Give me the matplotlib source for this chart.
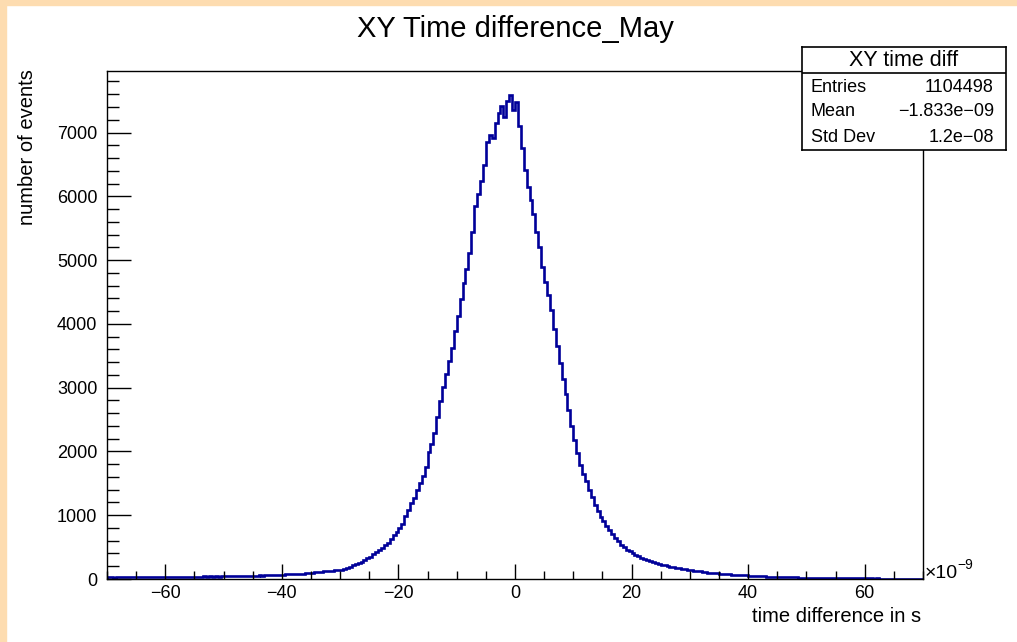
import matplotlib
matplotlib.use("Agg")
import matplotlib.pyplot as plt
from matplotlib.patches import Rectangle
from matplotlib.ticker import MultipleLocator
import numpy as np

plt.rcParams['font.family'] = ['Liberation Sans', 'DejaVu Sans']

# histogram: 0.5e-9 s bins from -70e-9 to 70e-9
bin_lo = -70.0
bin_width = 0.5
counts = [
    24, 27, 22, 29, 25, 31, 26, 28, 30, 24, 33, 27, 29, 32, 26, 30, 34, 28, 31, 33,
    30, 35, 32, 29, 36, 33, 38, 31, 35, 37, 34, 39, 36, 41, 35, 40, 38, 43, 39, 42,
    44, 41, 46, 43, 48, 45, 50, 47, 52, 49, 54, 51, 57, 53, 59, 56, 61, 63, 60, 66,
    70, 72, 75, 74, 80, 83, 86, 84, 92, 95, 100, 103, 110, 108, 118, 122, 127, 131, 135, 141,
    145, 158, 176, 188, 212, 228, 252, 270, 302, 330, 352, 388, 421, 447, 484, 527, 572, 626, 683, 738,
    795, 868, 992, 1085, 1196, 1275, 1392, 1505, 1618, 1760, 1985, 2110, 2290, 2545, 2790, 3005, 3215, 3410, 3615, 3885,
    4120, 4390, 4635, 4860, 5110, 5435, 5850, 6040, 6235, 6490, 6850, 6960, 6915, 7150, 7305, 7420, 7245, 7490, 7585, 7350,
    7480, 7095, 6760, 6415, 6150, 5945, 5720, 5440, 5205, 4890, 4655, 4445, 4210, 3915, 3650, 3385, 3140, 2905, 2650, 2405,
    2180, 1975, 1790, 1645, 1530, 1395, 1285, 1165, 1060, 968, 902, 826, 762, 698, 641, 592, 538, 503, 462, 432,
    406, 378, 356, 333, 317, 293, 281, 263, 252, 238, 226, 214, 206, 193, 186, 174, 166, 157, 151, 142,
    137, 131, 123, 119, 111, 108, 101, 98, 91, 88, 84, 80, 75, 73, 68, 66, 61, 60, 56, 55,
    52, 49, 47, 44, 43, 40, 38, 37, 34, 33, 31, 30, 28, 29, 26, 25, 24, 23, 21, 22,
    20, 19, 18, 19, 17, 16, 15, 16, 14, 13, 14, 12, 13, 11, 12, 10, 11, 10, 9, 10,
    9, 8, 9, 7, 8, 7, 6, 7, 6, 6, 5, 6, 5, 5, 4, 5, 4, 4, 3, 4,
]
stat_names = ['Entries', 'Mean', 'Std Dev']
stat_values = ['1104498', '\u22121.833e\u221209', '1.2e\u221208']

W, H = 1017, 642
fig = plt.figure(figsize=(W / 100, H / 100), dpi=100)
fig.patch.set_facecolor('white')

# peach border of the screenshot
fig.patches.append(Rectangle((0, 0), 6 / W, 1, transform=fig.transFigure, color='#fddcb0', zorder=0))
fig.patches.append(Rectangle((0, 1 - 5 / H), 1, 5 / H, transform=fig.transFigure, color='#fddcb0', zorder=0))

ax = fig.add_axes([107 / W, 1 - 579 / H, (923 - 107) / W, (579 - 71) / H])
edges = bin_lo + bin_width * np.arange(len(counts) + 1)
ax.stairs(counts, edges, color='#000099', linewidth=1.9)

ax.set_xlim(-70, 70)
ax.set_ylim(0, max(counts) * 1.05)
ax.xaxis.set_major_locator(MultipleLocator(20))
ax.xaxis.set_minor_locator(MultipleLocator(5))
ax.yaxis.set_major_locator(MultipleLocator(1000))
ax.yaxis.set_minor_locator(MultipleLocator(200))
ax.tick_params(axis='x', which='major', direction='in', length=11, width=1, pad=4, labelsize=13)
ax.tick_params(axis='x', which='minor', direction='in', length=5.5, width=1)
ax.tick_params(axis='y', which='major', direction='in', length=17, width=1, pad=7, labelsize=13)
ax.tick_params(axis='y', which='minor', direction='in', length=8.5, width=1)
for s in ax.spines.values():
    s.set_linewidth(1)

# titles
fig.text(515 / W, 1 - 29 / H, 'XY Time difference_May', ha='center', va='center', fontsize=21)
fig.text(28 / W, 1 - 69 / H, 'number of events', rotation=90, ha='center', va='top', fontsize=14.5)
fig.text(921 / W, 1 - 617 / H, 'time difference in s', ha='right', va='center', fontsize=14.5)
fig.text(925 / W, 1 - 573 / H, '\u00d710', ha='left', va='center', fontsize=14)
fig.text(957 / W, 1 - 565 / H, '\u22129', ha='left', va='center', fontsize=10)

# stats box
bx0, bx1, by0, by1 = 802, 1006, 47, 150
sb = fig.add_axes([bx0 / W, 1 - by1 / H, (bx1 - bx0) / W, (by1 - by0) / H])
sb.set_xlim(bx0, bx1)
sb.set_ylim(by1, by0)
sb.set_xticks([])
sb.set_yticks([])
for s in sb.spines.values():
    s.set_linewidth(1.2)
sb.axhline(73, color='black', linewidth=1.2)
sb.text((bx0 + bx1) / 2, 60, 'XY time diff', ha='center', va='center', fontsize=15.5)
for i, (name, val) in enumerate(zip(stat_names, stat_values)):
    y = 87 + 25 * i
    sb.text(811, y, name, ha='left', va='center', fontsize=13)
    sb.text(994, y, val, ha='right', va='center', fontsize=13)

fig.savefig('out.png', dpi=100)
